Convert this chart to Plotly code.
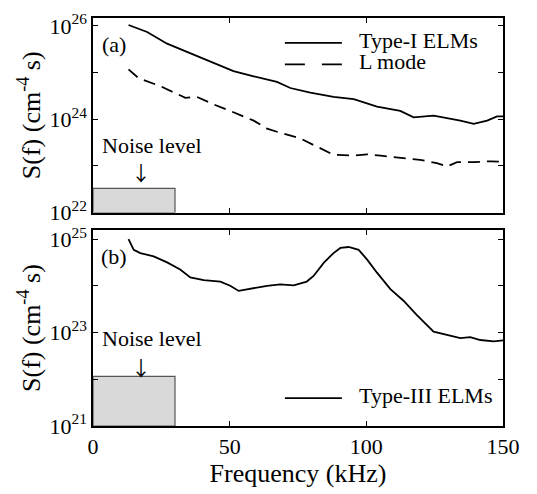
import plotly.graph_objects as go
from plotly.subplots import make_subplots

# ---- data (frequency in kHz, spectra as log10 of S(f)) ----
f_type1 = [13.0, 19.8, 27.1, 36.2, 44.1, 51.4, 58.8, 67.3, 72.2, 79.5, 88.0, 95.4,
           103.9, 112.4, 117.3, 124.6, 134.4, 139.3, 144.2, 147.8, 150.0]
log_type1 = [26.02, 25.87, 25.62, 25.40, 25.20, 25.03, 24.92, 24.80, 24.67, 24.57, 24.48, 24.43,
             24.27, 24.18, 24.04, 24.08, 23.97, 23.90, 23.97, 24.06, 24.06]

f_lmode = [13.0, 16.7, 24.6, 29.5, 33.8, 38.0, 44.1, 51.4, 58.8, 63.7, 68.5, 75.8, 83.1,
           88.0, 95.4, 100.3, 105.2, 112.4, 119.7, 125.8, 129.5, 133.2, 139.3, 145.4, 149.0]
log_lmode = [25.07, 24.88, 24.71, 24.58, 24.46, 24.48, 24.32, 24.15, 23.97, 23.80, 23.71, 23.59, 23.37,
             23.24, 23.22, 23.25, 23.22, 23.18, 23.13, 23.06, 22.99, 23.08, 23.08, 23.10, 23.09]

f_type3 = [13.0, 14.9, 17.3, 22.2, 27.1, 31.9, 35.6, 40.5, 46.6, 50.2, 53.3, 58.8, 63.7, 68.5,
           73.4, 78.2, 80.7, 84.4, 88.0, 90.5, 93.5, 97.2, 100.3, 103.9, 108.8, 113.6, 118.5,
           124.6, 129.5, 134.4, 138.0, 141.7, 146.6, 150.0]
log_type3 = [25.00, 24.77, 24.70, 24.63, 24.50, 24.35, 24.18, 24.12, 24.09, 24.00, 23.89, 23.95, 24.00, 24.03,
             24.01, 24.09, 24.21, 24.49, 24.70, 24.81, 24.83, 24.77, 24.56, 24.28, 23.93, 23.68, 23.37,
             23.02, 22.95, 22.88, 22.90, 22.84, 22.81, 22.83]

noise_band = [0, 30]            # kHz
noise_top = [3.3e22, 1.15e22]   # panel (a), panel (b)
noise_floor = [1e22, 1e21]

x_ticks = [0, 50, 100, 150]
y_ticks_a = [22, 23, 24, 25, 26]
y_ticks_b = [21, 22, 23, 24, 25]

FONT = "Liberation Serif, Times New Roman, DejaVu Serif, serif"
ARROW_FONT = "Noto Sans CJK SC, DejaVu Sans, sans-serif"

def lin(vals):
    return [10.0 ** float(v) for v in vals]

def sup_labels(exps):
    return [("10<sup>%d</sup>" % e) if i % 2 == 0 else "" for i, e in enumerate(exps)]

fig = make_subplots(rows=2, cols=1, shared_xaxes=False, vertical_spacing=0.04)

# noise boxes
for r in (1, 2):
    x0, x1 = noise_band
    lo, hi = noise_floor[r - 1], noise_top[r - 1]
    fig.add_trace(go.Scatter(x=[x0, x1, x1, x0, x0], y=[lo, lo, hi, hi, lo],
                             mode="lines", fill="toself", fillcolor="#d9d9d9",
                             line=dict(color="#555555", width=1.2),
                             showlegend=False, hoverinfo="skip"), row=r, col=1)

fig.add_trace(go.Scatter(x=f_type1, y=lin(log_type1), mode="lines",
                         line=dict(color="black", width=1.8), showlegend=False), row=1, col=1)
fig.add_trace(go.Scatter(x=f_lmode, y=lin(log_lmode), mode="lines",
                         line=dict(color="black", width=1.8, dash="12px,7px"), showlegend=False), row=1, col=1)
fig.add_trace(go.Scatter(x=f_type3, y=lin(log_type3), mode="lines",
                         line=dict(color="black", width=1.8), showlegend=False), row=2, col=1)

axis_common = dict(showline=True, linecolor="black", linewidth=1.5, mirror="ticks",
                   ticks="inside", ticklen=5, tickwidth=1, tickcolor="black",
                   showgrid=False, zeroline=False,
                   tickfont=dict(family=FONT, size=22, color="black"))

fig.update_xaxes(range=[0, 150], tickvals=x_ticks, **axis_common)
fig.update_xaxes(showticklabels=False, row=1, col=1)
fig.update_xaxes(title=dict(text="Frequency (kHz)", font=dict(family=FONT, size=26, color="black"),
                            standoff=0), row=2, col=1)

ytitle = dict(text="S(f) (cm<sup>-4</sup> s)", font=dict(family=FONT, size=26, color="black"), standoff=1)
fig.update_yaxes(type="log", range=[22, 26.17], tickvals=lin(y_ticks_a), ticktext=sup_labels(y_ticks_a),
                 title=ytitle, row=1, col=1, **axis_common)
fig.update_yaxes(type="log", range=[21, 25.19], tickvals=lin(y_ticks_b), ticktext=sup_labels(y_ticks_b),
                 title=ytitle, row=2, col=1, **axis_common)

# page body has an 8px margin, so the figure is shrunk and offset accordingly
fig.update_layout(
    width=529, height=486,
    margin=dict(l=85, r=34, t=3, b=68),
    paper_bgcolor="white", plot_bgcolor="white",
    font=dict(family=FONT, size=22, color="black"),
    xaxis=dict(domain=[0, 1]), xaxis2=dict(domain=[0, 1]),
    yaxis=dict(domain=[0.523, 1.0]), yaxis2=dict(domain=[0.0, 0.48]),
)

txt = dict(family=FONT, size=22, color="black")

def ann(text, x, y, xref, yref, xanchor="center", font=txt):
    fig.add_annotation(text=text, x=x, y=y, xref=xref, yref=yref, showarrow=False,
                       xanchor=xanchor, yanchor="middle", font=font)

# panel labels
ann("(a)", 0.05, 0.865, "x domain", "y domain")
ann("(b)", 0.05, 0.865, "x2 domain", "y2 domain")

# noise level labels
arrow_font = dict(family=ARROW_FONT, size=20, color="black")
ann("Noise level", 0.145, 0.345, "x domain", "y domain")
ann("\u2193", 0.117, 0.205, "x domain", "y domain", font=arrow_font)
ann("Noise level", 0.145, 0.445, "x2 domain", "y2 domain")
ann("\u2193", 0.117, 0.30, "x2 domain", "y2 domain", font=arrow_font)

# legends
legend_items = [
    ("Type-I ELMs", "solid", "x domain", "y domain", 0.872),
    ("L mode", "20px,17px", "x domain", "y domain", 0.762),
    ("Type-III ELMs", "solid", "x2 domain", "y2 domain", 0.142),
]
for label, dash, xr, yr, yy in legend_items:
    fig.add_shape(type="line", x0=0.468, x1=0.607, y0=yy, y1=yy, xref=xr, yref=yr,
                  line=dict(color="black", width=1.8, dash=dash))
    ann(label, 0.645, yy + 0.012, xr, yr, xanchor="left")

fig.write_html("out.html")
